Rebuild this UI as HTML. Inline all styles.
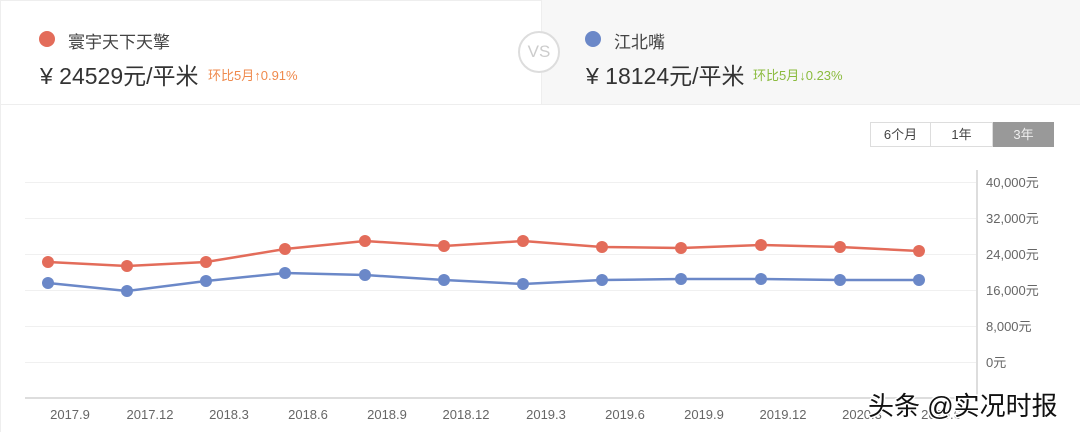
<!DOCTYPE html>
<html><head><meta charset="utf-8"><style>
body{margin:0;width:1080px;height:432px;overflow:hidden;background:#fff;font-family:"Liberation Sans","Noto Sans CJK SC",sans-serif;position:relative}
.p{position:absolute;top:0;height:105px}
.dot{position:absolute;width:16px;height:16px;border-radius:50%}
.t{position:absolute;white-space:nowrap}
</style></head><body>
<div class="p" style="left:0;width:541px;background:#fff;border-top:1px solid #eee;border-bottom:1px solid #eee;border-left:1px solid #eee;box-sizing:border-box"></div>
<div class="p" style="left:541px;width:539px;background:#f7f7f7;border-bottom:1px solid #eee;border-left:1px solid #eee;box-sizing:border-box"></div>
<div style="position:absolute;left:518px;top:31px;width:42px;height:42px;border:2px solid #ddd;border-radius:50%;background:#fff;box-sizing:border-box;color:#ccc;font-size:17px;text-align:center;line-height:38px">VS</div>
<div class="dot" style="left:39px;top:31px;background:#e36c5a"></div>
<div class="t" style="left:68px;top:28px;font-size:17px;color:#444">寰宇天下天擎</div>
<div class="t" style="left:40px;top:57px;font-size:23px;color:#333">¥ 24529元/平米</div>
<div class="t" style="left:208px;top:65px;font-size:13px;color:#ef8a4d">环比5月↑0.91%</div>
<div class="dot" style="left:585px;top:31px;background:#6b88c8"></div>
<div class="t" style="left:614px;top:28px;font-size:17px;color:#444">江北嘴</div>
<div class="t" style="left:586px;top:57px;font-size:23px;color:#333">¥ 18124元/平米</div>
<div class="t" style="left:753px;top:65px;font-size:13px;color:#8bbb3e">环比5月↓0.23%</div>
<div style="position:absolute;left:870px;top:122px;width:61px;height:25px;border:1px solid #ddd;box-sizing:border-box;font-size:13px;color:#444;text-align:center;line-height:23px">6个月</div>
<div style="position:absolute;left:931px;top:122px;width:62px;height:25px;border:1px solid #ddd;border-left:none;box-sizing:border-box;font-size:13px;color:#444;text-align:center;line-height:23px">1年</div>
<div style="position:absolute;left:993px;top:122px;width:61px;height:25px;background:#999;font-size:13px;color:#eee;text-align:center;line-height:25px">3年</div>
<div style="position:absolute;left:0;top:105px;width:1px;height:327px;background:#eee"></div>
<svg style="position:absolute;left:0;top:0" width="1080" height="432">
<g stroke="#f0f0f0" stroke-width="1">
<line x1="25" x2="976" y1="182.5" y2="182.5"/><line x1="25" x2="976" y1="218.5" y2="218.5"/><line x1="25" x2="976" y1="254.5" y2="254.5"/><line x1="25" x2="976" y1="290.5" y2="290.5"/><line x1="25" x2="976" y1="326.5" y2="326.5"/><line x1="25" x2="976" y1="362.5" y2="362.5"/>
</g>
<line x1="25" x2="977" y1="398" y2="398" stroke="#ddd" stroke-width="2"/>
<line x1="977" x2="977" y1="170" y2="398" stroke="#ddd" stroke-width="2"/>
<g font-size="13" fill="#666" font-family="Liberation Sans,Noto Sans CJK SC,sans-serif">
<text x="986" y="187">40,000元</text><text x="986" y="223">32,000元</text><text x="986" y="259">24,000元</text><text x="986" y="295">16,000元</text><text x="986" y="331">8,000元</text><text x="986" y="367">0元</text>
</g>
<g font-size="13" fill="#666" text-anchor="middle" font-family="Liberation Sans,sans-serif">
<text x="70" y="419">2017.9</text><text x="150" y="419">2017.12</text><text x="229" y="419">2018.3</text><text x="308" y="419">2018.6</text><text x="387" y="419">2018.9</text><text x="466" y="419">2018.12</text><text x="546" y="419">2019.3</text><text x="625" y="419">2019.6</text><text x="704" y="419">2019.9</text><text x="783" y="419">2019.12</text><text x="862" y="419">2020.3</text><text x="941" y="419">2020.6</text>
</g>
<polyline fill="none" stroke="#e36c5a" stroke-width="2.5" points="48,262 127,266 206,262 285,249 365,241 444,246 523,241 602,247 681,248 761,245 840,247 919,251"/>
<polyline fill="none" stroke="#6b88c8" stroke-width="2.5" points="48,283 127,291 206,281 285,273 365,275 444,280 523,284 602,280 681,279 761,279 840,280 919,280"/>
<g fill="#e36c5a"><circle cx="48" cy="262" r="6"/><circle cx="127" cy="266" r="6"/><circle cx="206" cy="262" r="6"/><circle cx="285" cy="249" r="6"/><circle cx="365" cy="241" r="6"/><circle cx="444" cy="246" r="6"/><circle cx="523" cy="241" r="6"/><circle cx="602" cy="247" r="6"/><circle cx="681" cy="248" r="6"/><circle cx="761" cy="245" r="6"/><circle cx="840" cy="247" r="6"/><circle cx="919" cy="251" r="6"/></g>
<g fill="#6b88c8"><circle cx="48" cy="283" r="6"/><circle cx="127" cy="291" r="6"/><circle cx="206" cy="281" r="6"/><circle cx="285" cy="273" r="6"/><circle cx="365" cy="275" r="6"/><circle cx="444" cy="280" r="6"/><circle cx="523" cy="284" r="6"/><circle cx="602" cy="280" r="6"/><circle cx="681" cy="279" r="6"/><circle cx="761" cy="279" r="6"/><circle cx="840" cy="280" r="6"/><circle cx="919" cy="280" r="6"/></g>
<text x="868" y="415" font-size="26" fill="#111" stroke="#fff" stroke-width="3" paint-order="stroke" font-family="Liberation Sans,Noto Sans CJK SC,sans-serif">头条 @实况时报</text>
</svg>
</body></html>
